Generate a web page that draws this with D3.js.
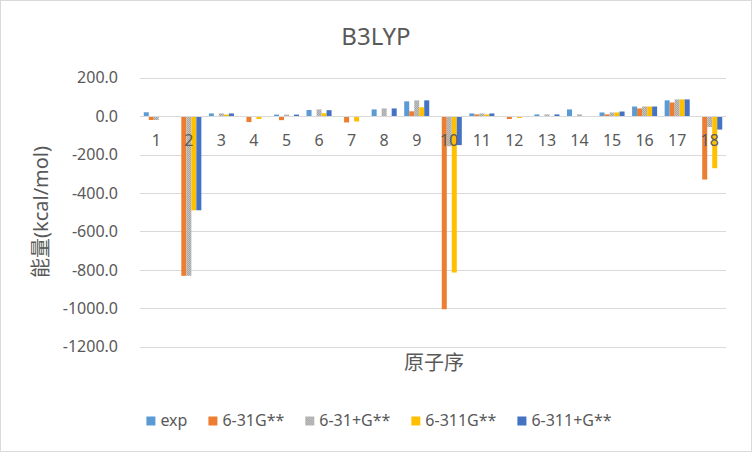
<!DOCTYPE html>
<html><head><meta charset="utf-8">
<script src="https://cdn.jsdelivr.net/npm/d3@7"></script>
<style>
html,body{margin:0;padding:0;background:#fff;}
svg{display:block;font-family:"Noto Sans","Noto Sans CJK SC",sans-serif;}
</style></head>
<body>
<svg id="chart" width="752" height="452"></svg>
<script>
const categories = ["1","2","3","4","5","6","7","8","9","10","11","12","13","14","15","16","17","18"];
const seriesNames = ["exp","6-31G**","6-31+G**","6-311G**","6-311+G**"];
const expValues      = [20, 0, 14, 0, 8, 32, 0, 35, 77, 0, 14, 0, 9, 35, 19, 50, 82, 0];
const b631gValues    = [-20, -831, 0, -31, -21, 0, -33, 0, 25, -1005, 9, -15, 0, 0, 9, 40, 71, -330];
const b631pgValues   = [-20, -831, 14, 0, 8, 35, 0, 40, 82, -157, 14, 0, 9, 9, 19, 50, 87, -57];
const b6311gValues   = [0, -490, 8, -15, 0, 15, -28, 0, 46, -814, 9, -10, 0, 0, 19, 50, 87, -271];
const b6311pgValues  = [0, -490, 14, 0, 8, 31, 0, 40, 82, -151, 14, 0, 9, 0, 24, 50, 87, -70];
const yTicks = [200, 0, -200, -400, -600, -800, -1000, -1200];
const titleText = "B3LYP";
const yTitle = "能量(kcal/mol)";
const xTitle = "原子序";

const seriesValues = [expValues, b631gValues, b631pgValues, b6311gValues, b6311pgValues];
const colors = ["#5B9BD5", "#ED7D31", "url(#grayPat)", "#FFC000", "#4472C4"];
const legendColors = ["#5B9BD5", "#ED7D31", "url(#grayPat)", "#FFC000", "#4472C4"];

const svg = d3.select("#chart");
const defs = svg.append("defs");
const pat = defs.append("pattern").attr("id","grayPat").attr("width",2).attr("height",2)
  .attr("patternUnits","userSpaceOnUse");
pat.append("rect").attr("width",2).attr("height",2).attr("fill","#A5A5A5");
pat.append("rect").attr("x",0).attr("y",0).attr("width",1).attr("height",1).attr("fill","#C4C4C4");
pat.append("rect").attr("x",1).attr("y",1).attr("width",1).attr("height",1).attr("fill","#C4C4C4");

// border
svg.append("rect").attr("x",0.5).attr("y",0.5).attr("width",751).attr("height",451)
  .attr("fill","#fff").attr("stroke","#D9D9D9");

const plotL = 140, plotR = 726, plotT = 77.7, plotB = 346.7;
const x = d3.scaleBand().domain(categories).range([plotL, plotR])
  .paddingInner(1.5/6.5).paddingOuter(0.75/6.5);
const xs = d3.scaleBand().domain(d3.range(seriesNames.length)).range([0, x.bandwidth()]).padding(0);
const y = d3.scaleLinear().domain([-1200, 200]).range([plotB, plotT]);

// gridlines
svg.append("g").selectAll("line").data(yTicks.filter(v => v !== 0)).join("line")
  .attr("x1", plotL).attr("x2", plotR)
  .attr("y1", d => Math.round(y(d)) + 0.5).attr("y2", d => Math.round(y(d)) + 0.5)
  .attr("stroke", "#D9D9D9").attr("stroke-width", 1);

// y tick labels
svg.append("g").selectAll("text").data(yTicks).join("text")
  .attr("x", 118).attr("y", d => y(d)).attr("dy", "0.36em")
  .attr("text-anchor", "end").attr("font-size", 16).attr("fill", "#595959")
  .text(d => d.toFixed(1));

// bars
seriesValues.forEach((vals, si) => {
  svg.append("g").selectAll("rect").data(vals).join("rect")
    .attr("x", (d, i) => x(categories[i]) + xs(si))
    .attr("width", xs.bandwidth())
    .attr("y", d => Math.min(y(0), y(d)))
    .attr("height", d => Math.abs(y(d) - y(0)))
    .attr("fill", colors[si]);
});

// zero axis line
svg.append("line").attr("x1", plotL).attr("x2", plotR)
  .attr("y1", Math.round(y(0)) + 0.5).attr("y2", Math.round(y(0)) + 0.5)
  .attr("stroke", "#D9D9D9").attr("stroke-width", 1);

// category labels
svg.append("g").selectAll("text").data(categories).join("text")
  .attr("x", d => x(d) + x.bandwidth()/2).attr("y", 146)
  .attr("text-anchor", "middle").attr("font-size", 16).attr("fill", "#595959")
  .text(d => d);

// title
svg.append("text").attr("x", 376).attr("y", 45).attr("text-anchor", "middle")
  .attr("font-size", 24).attr("fill", "#595959").text(titleText);

// y title
svg.append("text").attr("transform", "translate(48,212) rotate(-90)")
  .attr("text-anchor", "middle").attr("font-size", 20).attr("fill", "#595959").text(yTitle);

// x title
svg.append("text").attr("x", 434).attr("y", 370).attr("text-anchor", "middle")
  .attr("font-size", 20).attr("fill", "#595959").text(xTitle);

// legend
const lg = svg.append("g");
let cx = 0;
const items = [];
seriesNames.forEach((name, i) => {
  const g = lg.append("g");
  g.append("rect").attr("x", 0).attr("y", -9.5).attr("width", 9).attr("height", 9).attr("fill", legendColors[i]);
  const t = g.append("text").attr("x", 14).attr("y", 0).attr("font-size", 16).attr("fill", "#595959").text(name);
  const w = 14 + t.node().getComputedTextLength();
  g.attr("transform", `translate(${cx},0)`);
  cx += w + 21;
});
const totalW = cx - 21;
lg.attr("transform", `translate(${379 - totalW/2},426)`);
</script>
</body></html>
